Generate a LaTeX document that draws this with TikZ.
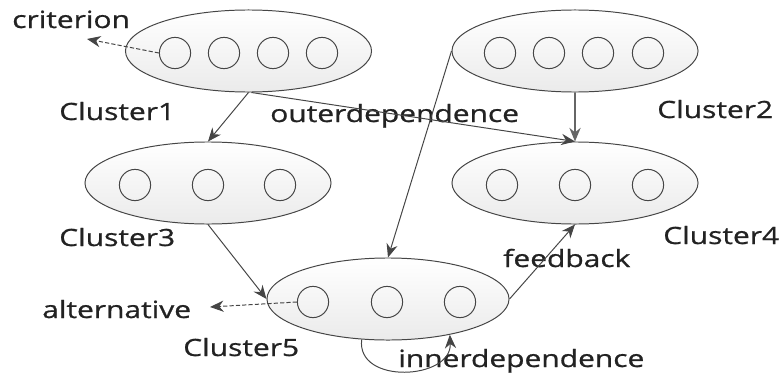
\documentclass[tikz,border=0pt]{standalone}
\usepackage{fontspec}
\setmainfont[FakeStretch=1.26,FakeBold=0.8]{Open Sans}
\usetikzlibrary{arrows.meta,shapes.geometric}
\definecolor{linegray}{HTML}{454545}
\definecolor{textgray}{HTML}{222222}
\tikzset{
  cluster/.style={ellipse, draw=linegray, line width=0.7pt, top color=white, bottom color=black!8, minimum width=6.15cm, minimum height=2.05cm, inner sep=0pt},
  dot/.style={circle, draw=linegray, line width=0.7pt, minimum size=0.78cm, inner sep=0pt},
  lbl/.style={anchor=base west, inner sep=0pt, text=textgray, font=\fontsize{16.9}{18}\selectfont},
  arr/.style={draw=linegray, line width=0.7pt, -{Stealth[length=3.4mm,width=2.8mm]}},
  dasharr/.style={arr, dash pattern=on 3pt off 1.5pt}
}
\begin{document}
\begin{tikzpicture}[x=0.025cm, y=-0.025cm]
			%%%%% START %%%%%
			\useasboundingbox (0, 0) rectangle (782, 375);
			
			\node[cluster] (c1) at (248.5, 51) {};
			\node[cluster] (c2) at (575, 51) {};
			\node[cluster] (c3) at (208, 183) {};
			\node[cluster] (c4) at (575, 183) {};
			\node[cluster, minimum width=6.05cm] (c5) at (388, 299) {};
			
			\foreach \x [count=\i] in {175, 224, 273, 322}
			  \node[dot] (c1-\i) at (\x, 53) {};
			\foreach \x [count=\i] in {500, 549, 598, 648}
			  \node[dot] (c2-\i) at (\x, 53) {};
			\foreach \x [count=\i] in {135, 208, 280}
			  \node[dot] (c3-\i) at (\x, 185) {};
			\foreach \x [count=\i] in {502, 575, 648}
			  \node[dot] (c4-\i) at (\x, 185) {};
			\foreach \x [count=\i] in {313, 387, 460}
			  \node[dot] (c5-\i) at (\x, 302) {};
			
			\node[lbl] (crit) at (12, 28) {criterion};
			\node[lbl] (l1) at (59, 120) {Cluster1};
			\node[lbl] (l2) at (657, 118) {Cluster2};
			\node[lbl] (outer) at (270, 122) {outerdependence};
			\node[lbl] (l3) at (59, 246) {Cluster3};
			\node[lbl] (l4) at (663, 244) {Cluster4};
			\node[lbl] (fb) at (503, 267) {feedback};
			\node[lbl] (alt) at (42, 318) {alternative};
			\node[lbl] (l5) at (183, 356) {Cluster5};
			\node[lbl] (inner) at (398, 367) {innerdependence};
			
			\coordinate (critend) at (87, 39);
			\coordinate (altend) at (210, 307);
			
			\draw[dasharr] (c1-1.west) -- (critend);
			\draw[dasharr] (c5-1.west) -- (altend);
			\draw[arr] (c1.south) -- (c3.north);
			\draw[arr] (c1.-86) -- (c4.north);
			\draw[arr, line width=1.3pt, draw=black!60] (c2.south) -- (c4.north);
			\draw[arr] (c2.west) -- (c5.north);
			\draw[arr] (c3.south) -- (c5.west);
			\draw[arr] (c5.east) -- (c4.south);
			\draw[arr] (c5.237) .. controls (356, 385) and (452, 380) .. (c5.-30);
			
			%%%%% END %%%%%
\end{tikzpicture}
\end{document}
